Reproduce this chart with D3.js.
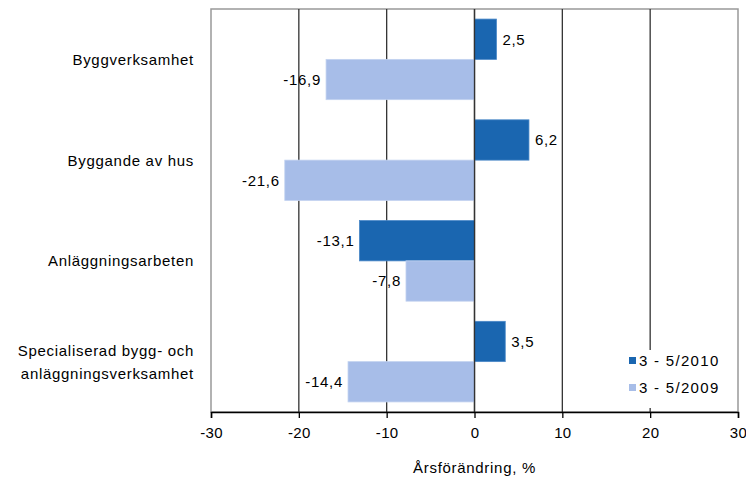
<!DOCTYPE html>
<html>
<head>
<meta charset="utf-8">
<script src="https://cdn.jsdelivr.net/npm/d3@7"></script>
<style>
  body { margin: 0; background: #fff; }
  text { font-family: "Liberation Sans", Arial, sans-serif; fill: #000; }
</style>
</head>
<body>
<div id="vis-container"></div>
<script>
// data
const categories = ["Byggverksamhet", "Byggande av hus", "Anläggningsarbeten",
                    "Specialiserad bygg- och|anläggningsverksamhet"];
const series2010 = [2.5, 6.2, -13.1, 3.5];
const series2009 = [-16.9, -21.6, -7.8, -14.4];
const seriesNames = ["3 - 5/2010", "3 - 5/2009"];
const xTicks = [-30, -20, -10, 0, 10, 20, 30];

const width = 746, height = 479;
const margin = { top: 9, right: 8, bottom: 67, left: 211 };
const colors = ["#1a66b0", "#a7bde8"];
const fontSize = "15px";
const spacing = "0.7px";

const svg = d3.select("#vis-container")
  .append("svg")
  .attr("width", width)
  .attr("height", height);

const x = d3.scaleLinear()
  .domain([-30, 30])
  .range([margin.left, width - margin.right]);

const y = d3.scaleBand()
  .domain(d3.range(categories.length))
  .range([margin.top, height - margin.bottom])
  .paddingInner(0.2)
  .paddingOuter(0.1);

const y2 = d3.scaleBand()
  .domain([0, 1])
  .range([0, y.bandwidth()]);

const fmt = v => d3.format(".1f")(v).replace("−", "-").replace(".", ",");

// plot border
svg.append("rect")
  .attr("x", x(-30)).attr("y", margin.top)
  .attr("width", x(30) - x(-30))
  .attr("height", height - margin.bottom - margin.top)
  .attr("fill", "none").attr("stroke", "#999").attr("stroke-width", 1.5);

// gridlines
svg.append("g").selectAll("line")
  .data(xTicks.slice(1, -1))
  .join("line")
  .attr("x1", d => x(d)).attr("x2", d => x(d))
  .attr("y1", margin.top).attr("y2", height - margin.bottom)
  .attr("stroke", "#333").attr("stroke-width", 1.3);

// bars
const groups = categories.map((c, i) => [
  { i: i, s: 0, v: series2010[i] },
  { i: i, s: 1, v: series2009[i] }
]).flat();

svg.append("g").selectAll("rect")
  .data(groups)
  .join("rect")
  .attr("x", d => x(Math.min(0, d.v)))
  .attr("y", d => y(d.i) + y2(d.s))
  .attr("width", d => Math.abs(x(d.v) - x(0)))
  .attr("height", y2.bandwidth())
  .attr("fill", d => colors[d.s])
  .attr("stroke", d => d.s === 0 ? "#4a88c8" : "#c2d2f0")
  .attr("stroke-width", 0.8);

// zero line over bars
svg.append("line")
  .attr("x1", x(0)).attr("x2", x(0))
  .attr("y1", margin.top).attr("y2", height - margin.bottom)
  .attr("stroke", "#333").attr("stroke-width", 1.3);

// value labels
svg.append("g").selectAll("text")
  .data(groups)
  .join("text")
  .attr("x", d => d.v >= 0 ? x(d.v) + 6 : x(d.v) - 5)
  .attr("y", d => y(d.i) + y2(d.s) + y2.bandwidth() / 2)
  .attr("dy", "0.36em")
  .attr("text-anchor", d => d.v >= 0 ? "start" : "end")
  .style("font-size", fontSize)
  .style("letter-spacing", spacing)
  .text(d => fmt(d.v));

// category labels
const catG = svg.append("g");
categories.forEach((c, i) => {
  const lines = c.split("|");
  const t = catG.append("text")
    .attr("text-anchor", "end")
    .style("font-size", fontSize)
    .style("letter-spacing", spacing);
  lines.forEach((l, j) => {
    t.append("tspan")
      .attr("x", 194)
      .attr("y", y(i) + y.bandwidth() / 2 + (j - (lines.length - 1) / 2) * 23)
      .attr("dy", "0.36em")
      .text(l);
  });
});

// x axis
const xAxis = svg.append("g")
  .attr("transform", `translate(0,${height - margin.bottom})`)
  .call(d3.axisBottom(x).tickValues(xTicks).tickSize(6).tickPadding(9)
    .tickFormat(d => d3.format("d")(d).replace("−", "-")));
xAxis.attr("font-family", null).attr("font-size", null);
xAxis.select(".domain").attr("stroke", "#000").attr("stroke-width", 1.5);
xAxis.selectAll(".tick line").attr("stroke", "#000").attr("stroke-width", 1.3);
xAxis.selectAll(".tick text")
  .style("font-size", fontSize)
  .style("letter-spacing", "0.3px");

svg.append("text")
  .attr("x", x(0))
  .attr("y", 473)
  .attr("text-anchor", "middle")
  .style("font-size", fontSize)
  .style("letter-spacing", spacing)
  .text("Årsförändring, %");

// legend
const legend = svg.append("g");
legend.append("rect")
  .attr("x", 624).attr("y", 350)
  .attr("width", 108).attr("height", 58)
  .attr("fill", "#fff");
seriesNames.forEach((n, i) => {
  legend.append("rect")
    .attr("x", 629).attr("y", 357 + i * 27)
    .attr("width", 7).attr("height", 7)
    .attr("fill", colors[i]);
  legend.append("text")
    .attr("x", 639).attr("y", 361 + i * 27)
    .attr("dy", "0.36em")
    .style("font-size", fontSize)
    .style("letter-spacing", "1.3px")
    .text(n);
});
</script>
</body>
</html>
